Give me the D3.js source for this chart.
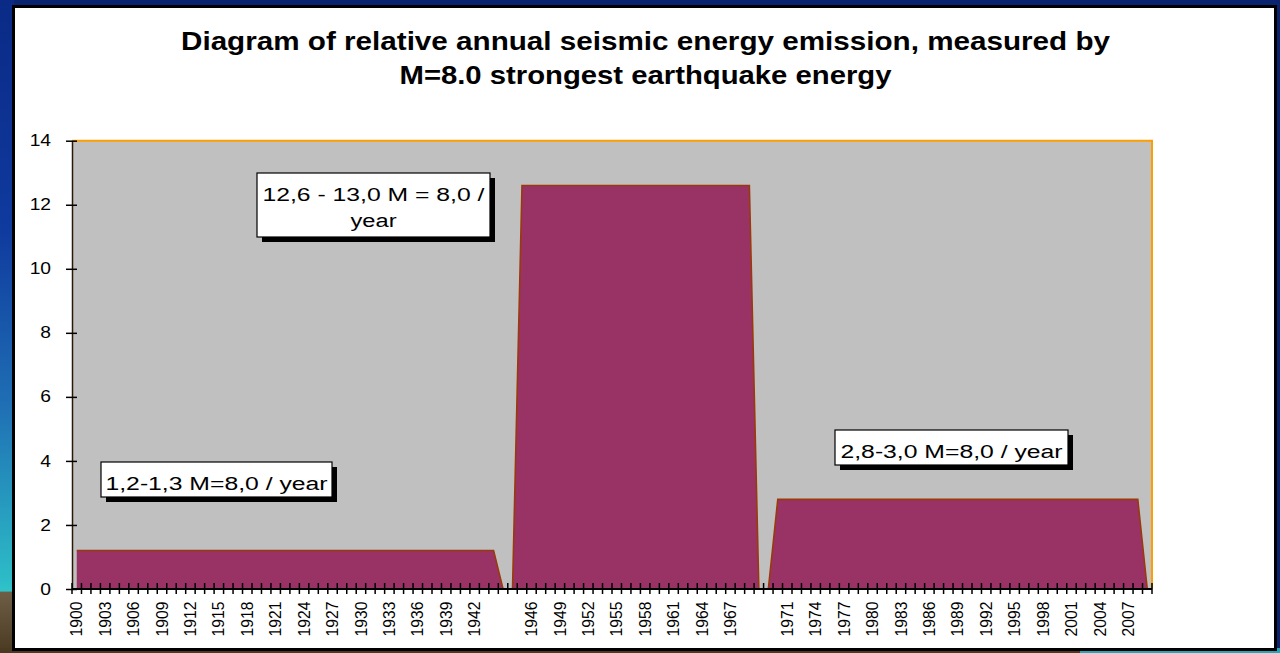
<!DOCTYPE html>
<html>
<head>
<meta charset="utf-8">
<script src="https://cdn.jsdelivr.net/npm/d3@7"></script>
<style>
  html, body { margin: 0; padding: 0; background: #0a2470; }
  svg { display: block; font-family: Arial, "Liberation Sans", sans-serif; }
</style>
</head>
<body>
<svg id="chart" width="1280" height="653"></svg>
<script>
// Years shown along the category axis ("" marks the zero-value separator rows)
const years = [
  "1900","1901","1902","1903","1904","1905","1906","1907","1908","1909",
  "1910","1911","1912","1913","1914","1915","1916","1917","1918","1919",
  "1920","1921","1922","1923","1924","1925","1926","1927","1928","1929",
  "1930","1931","1932","1933","1934","1935","1936","1937","1938","1939",
  "1940","1941","1942","1943","1944",
  "","",
  "1945","1946","1947","1948","1949","1950","1951","1952","1953","1954",
  "1955","1956","1957","1958","1959","1960","1961","1962","1963","1964",
  "1965","1966","1967","1968","1969",
  "","",
  "1970","1971","1972","1973","1974","1975","1976","1977","1978","1979",
  "1980","1981","1982","1983","1984","1985","1986","1987","1988","1989",
  "1990","1991","1992","1993","1994","1995","1996","1997","1998","1999",
  "2000","2001","2002","2003","2004","2005","2006","2007","2008",
  ""
];

// Relative annual energy, in units of one M=8.0 earthquake per year
const energy = [
  1.2,1.2,1.2,1.2,1.2,1.2,1.2,1.2,1.2,1.2,
  1.2,1.2,1.2,1.2,1.2,1.2,1.2,1.2,1.2,1.2,
  1.2,1.2,1.2,1.2,1.2,1.2,1.2,1.2,1.2,1.2,
  1.2,1.2,1.2,1.2,1.2,1.2,1.2,1.2,1.2,1.2,
  1.2,1.2,1.2,1.2,1.2,
  0,0,
  12.6,12.6,12.6,12.6,12.6,12.6,12.6,12.6,12.6,12.6,
  12.6,12.6,12.6,12.6,12.6,12.6,12.6,12.6,12.6,12.6,
  12.6,12.6,12.6,12.6,12.6,
  0,0,
  2.8,2.8,2.8,2.8,2.8,2.8,2.8,2.8,2.8,2.8,
  2.8,2.8,2.8,2.8,2.8,2.8,2.8,2.8,2.8,2.8,
  2.8,2.8,2.8,2.8,2.8,2.8,2.8,2.8,2.8,2.8,
  2.8,2.8,2.8,2.8,2.8,2.8,2.8,2.8,2.8,
  0
];

const yTicks = [0, 2, 4, 6, 8, 10, 12, 14];

const titleLines = [
  "Diagram of relative annual seismic energy emission, measured by",
  "M=8.0 strongest earthquake energy"
];

const notes = [
  ["1,2-1,3 M=8,0 / year"],
  ["12,6 - 13,0 M = 8,0 /", "year"],
  ["2,8-3,0 M=8,0 / year"]
];

const svg = d3.select("#chart");
const W = 1280, H = 653;

// widen a text element horizontally by a factor (the slide text is set wide)
function widen(sel, k) {
  sel.each(function () {
    const n = this.getComputedTextLength();
    d3.select(this).attr("textLength", n * k).attr("lengthAdjust", "spacingAndGlyphs");
  });
}

// ---- slide background behind the chart frame ----
const defs = svg.append("defs");
const lg = defs.append("linearGradient").attr("id", "edge")
  .attr("x1", 0).attr("y1", 0).attr("x2", 0).attr("y2", 1);
[[0, "#0a2a86"], [0.35, "#0f3a9e"], [0.62, "#1f6fb4"], [0.88, "#2cb9c6"],
 [0.905, "#2fc3c9"], [0.907, "#6e5e45"], [1, "#4a3a22"]]
  .forEach(([o, c]) => lg.append("stop").attr("offset", o).attr("stop-color", c));

svg.append("rect").attr("width", W).attr("height", H).attr("fill", "#0a2470");
svg.append("rect").attr("x", 0).attr("y", 0).attr("width", 14).attr("height", H)
  .attr("fill", "url(#edge)");
svg.append("rect").attr("x", 0).attr("y", 648).attr("width", 1080).attr("height", 5)
  .attr("fill", "#4a3a22");
svg.append("rect").attr("x", 1080).attr("y", 648).attr("width", 200).attr("height", 5)
  .attr("fill", "#1fa8b8");

// ---- chart frame ----
svg.append("rect")
  .attr("x", 13.5).attr("y", 6.5).attr("width", 1262).attr("height", 643)
  .attr("fill", "#ffffff").attr("stroke", "#000000").attr("stroke-width", 3);

// ---- title ----
const titleWidths = [929, 492];
svg.append("g").selectAll("text").data(titleLines).join("text")
  .attr("x", 645.5).attr("y", (d, i) => 50 + i * 34)
  .attr("text-anchor", "middle")
  .attr("font-size", 25).attr("font-weight", "bold").attr("fill", "#000")
  .attr("textLength", (d, i) => titleWidths[i]).attr("lengthAdjust", "spacingAndGlyphs")
  .text(d => d);

// ---- scales ----
const plotL = 72, plotR = 1152, plotT = 140.7, plotB = 589;
const x = d3.scaleBand().domain(d3.range(years.length)).range([plotL, plotR]).padding(0);
const y = d3.scaleLinear().domain([0, 14]).range([plotB, plotT]);
const cx = i => x(i) + x.bandwidth() / 2;

// ---- plot area ----
svg.append("rect")
  .attr("x", plotL).attr("y", plotT).attr("width", plotR - plotL).attr("height", plotB - plotT)
  .attr("fill", "#c0c0c0");

const area = d3.area().x((d, i) => cx(i)).y0(y(0)).y1(d => y(d));
const line = d3.line().x((d, i) => cx(i)).y(d => y(d));

svg.append("path").datum(energy)
  .attr("d", area).attr("fill", "#993366");
svg.append("path").datum(energy)
  .attr("d", line).attr("fill", "none")
  .attr("stroke", "#9a3a0c").attr("stroke-width", 1.6).attr("stroke-linejoin", "miter");

// plot border (top and right)
svg.append("path")
  .attr("d", `M${plotL},${plotT}H${plotR}V${plotB}`)
  .attr("fill", "none").attr("stroke", "#ff9e00").attr("stroke-width", 2);

// ---- y axis ----
const yAxis = svg.append("g").attr("transform", `translate(${plotL},0)`)
  .call(d3.axisLeft(y).tickValues(yTicks).tickFormat(d3.format("d")).tickSizeOuter(0).tickPadding(15));
yAxis.select(".domain").attr("stroke", "#2a1a05").attr("stroke-width", 1.5);
yAxis.selectAll(".tick line").attr("x1", 5).attr("x2", -6)
  .attr("stroke", "#000").attr("stroke-width", 1.5);
yAxis.selectAll(".tick text").attr("font-size", 16).attr("fill", "#000")
  .attr("font-family", "Arial, 'Liberation Sans', sans-serif").call(widen, 1.2);

// ---- x axis ----
const xAxis = svg.append("g").attr("transform", `translate(0,${plotB})`);
// category boundary ticks, crossing the axis line
const bounds = d3.range(years.length + 1).map(i => i < years.length ? x(i) : x(i - 1) + x.bandwidth());
xAxis.selectAll("line.tk").data(bounds).join("line").attr("class", "tk")
  .attr("x1", d => d).attr("x2", d => d).attr("y1", -6).attr("y2", 5)
  .attr("stroke", "#000").attr("stroke-width", 1.5);
xAxis.append("line").attr("x1", plotL).attr("x2", plotR).attr("y1", 0).attr("y2", 0)
  .attr("stroke", "#000").attr("stroke-width", 2.2);

// every third category carries a label
xAxis.selectAll("text").data(years.map((t, i) => ({ t, i })).filter(d => d.i % 3 === 0 && d.t))
  .join("text")
  .attr("transform", d => `translate(${cx(d.i)},12.5) rotate(-90)`)
  .attr("text-anchor", "end").attr("dy", "0.36em")
  .attr("font-size", 15.7).attr("fill", "#000")
  .text(d => d.t);

// ---- callout boxes ----
function callout(lines, bx, by, bw, bh, widths) {
  const g = svg.append("g");
  g.append("rect").attr("x", bx + 5).attr("y", by + 5).attr("width", bw).attr("height", bh)
    .attr("fill", "#000");
  g.append("rect").attr("x", bx).attr("y", by).attr("width", bw).attr("height", bh)
    .attr("fill", "#fff").attr("stroke", "#000").attr("stroke-width", 1.2);
  g.selectAll("text").data(lines).join("text")
    .attr("x", bx + bw / 2).attr("y", (d, i) => by + 28 + i * 26)
    .attr("text-anchor", "middle").attr("font-size", 18).attr("fill", "#000")
    .attr("textLength", (d, i) => widths[i]).attr("lengthAdjust", "spacingAndGlyphs")
    .text(d => d);
}
callout(notes[0], 101, 462, 231, 35, [222]);
callout(notes[1], 257, 173, 233, 64, [222, 46]);
callout(notes[2], 835, 430, 233, 35, [222]);
</script>
</body>
</html>
